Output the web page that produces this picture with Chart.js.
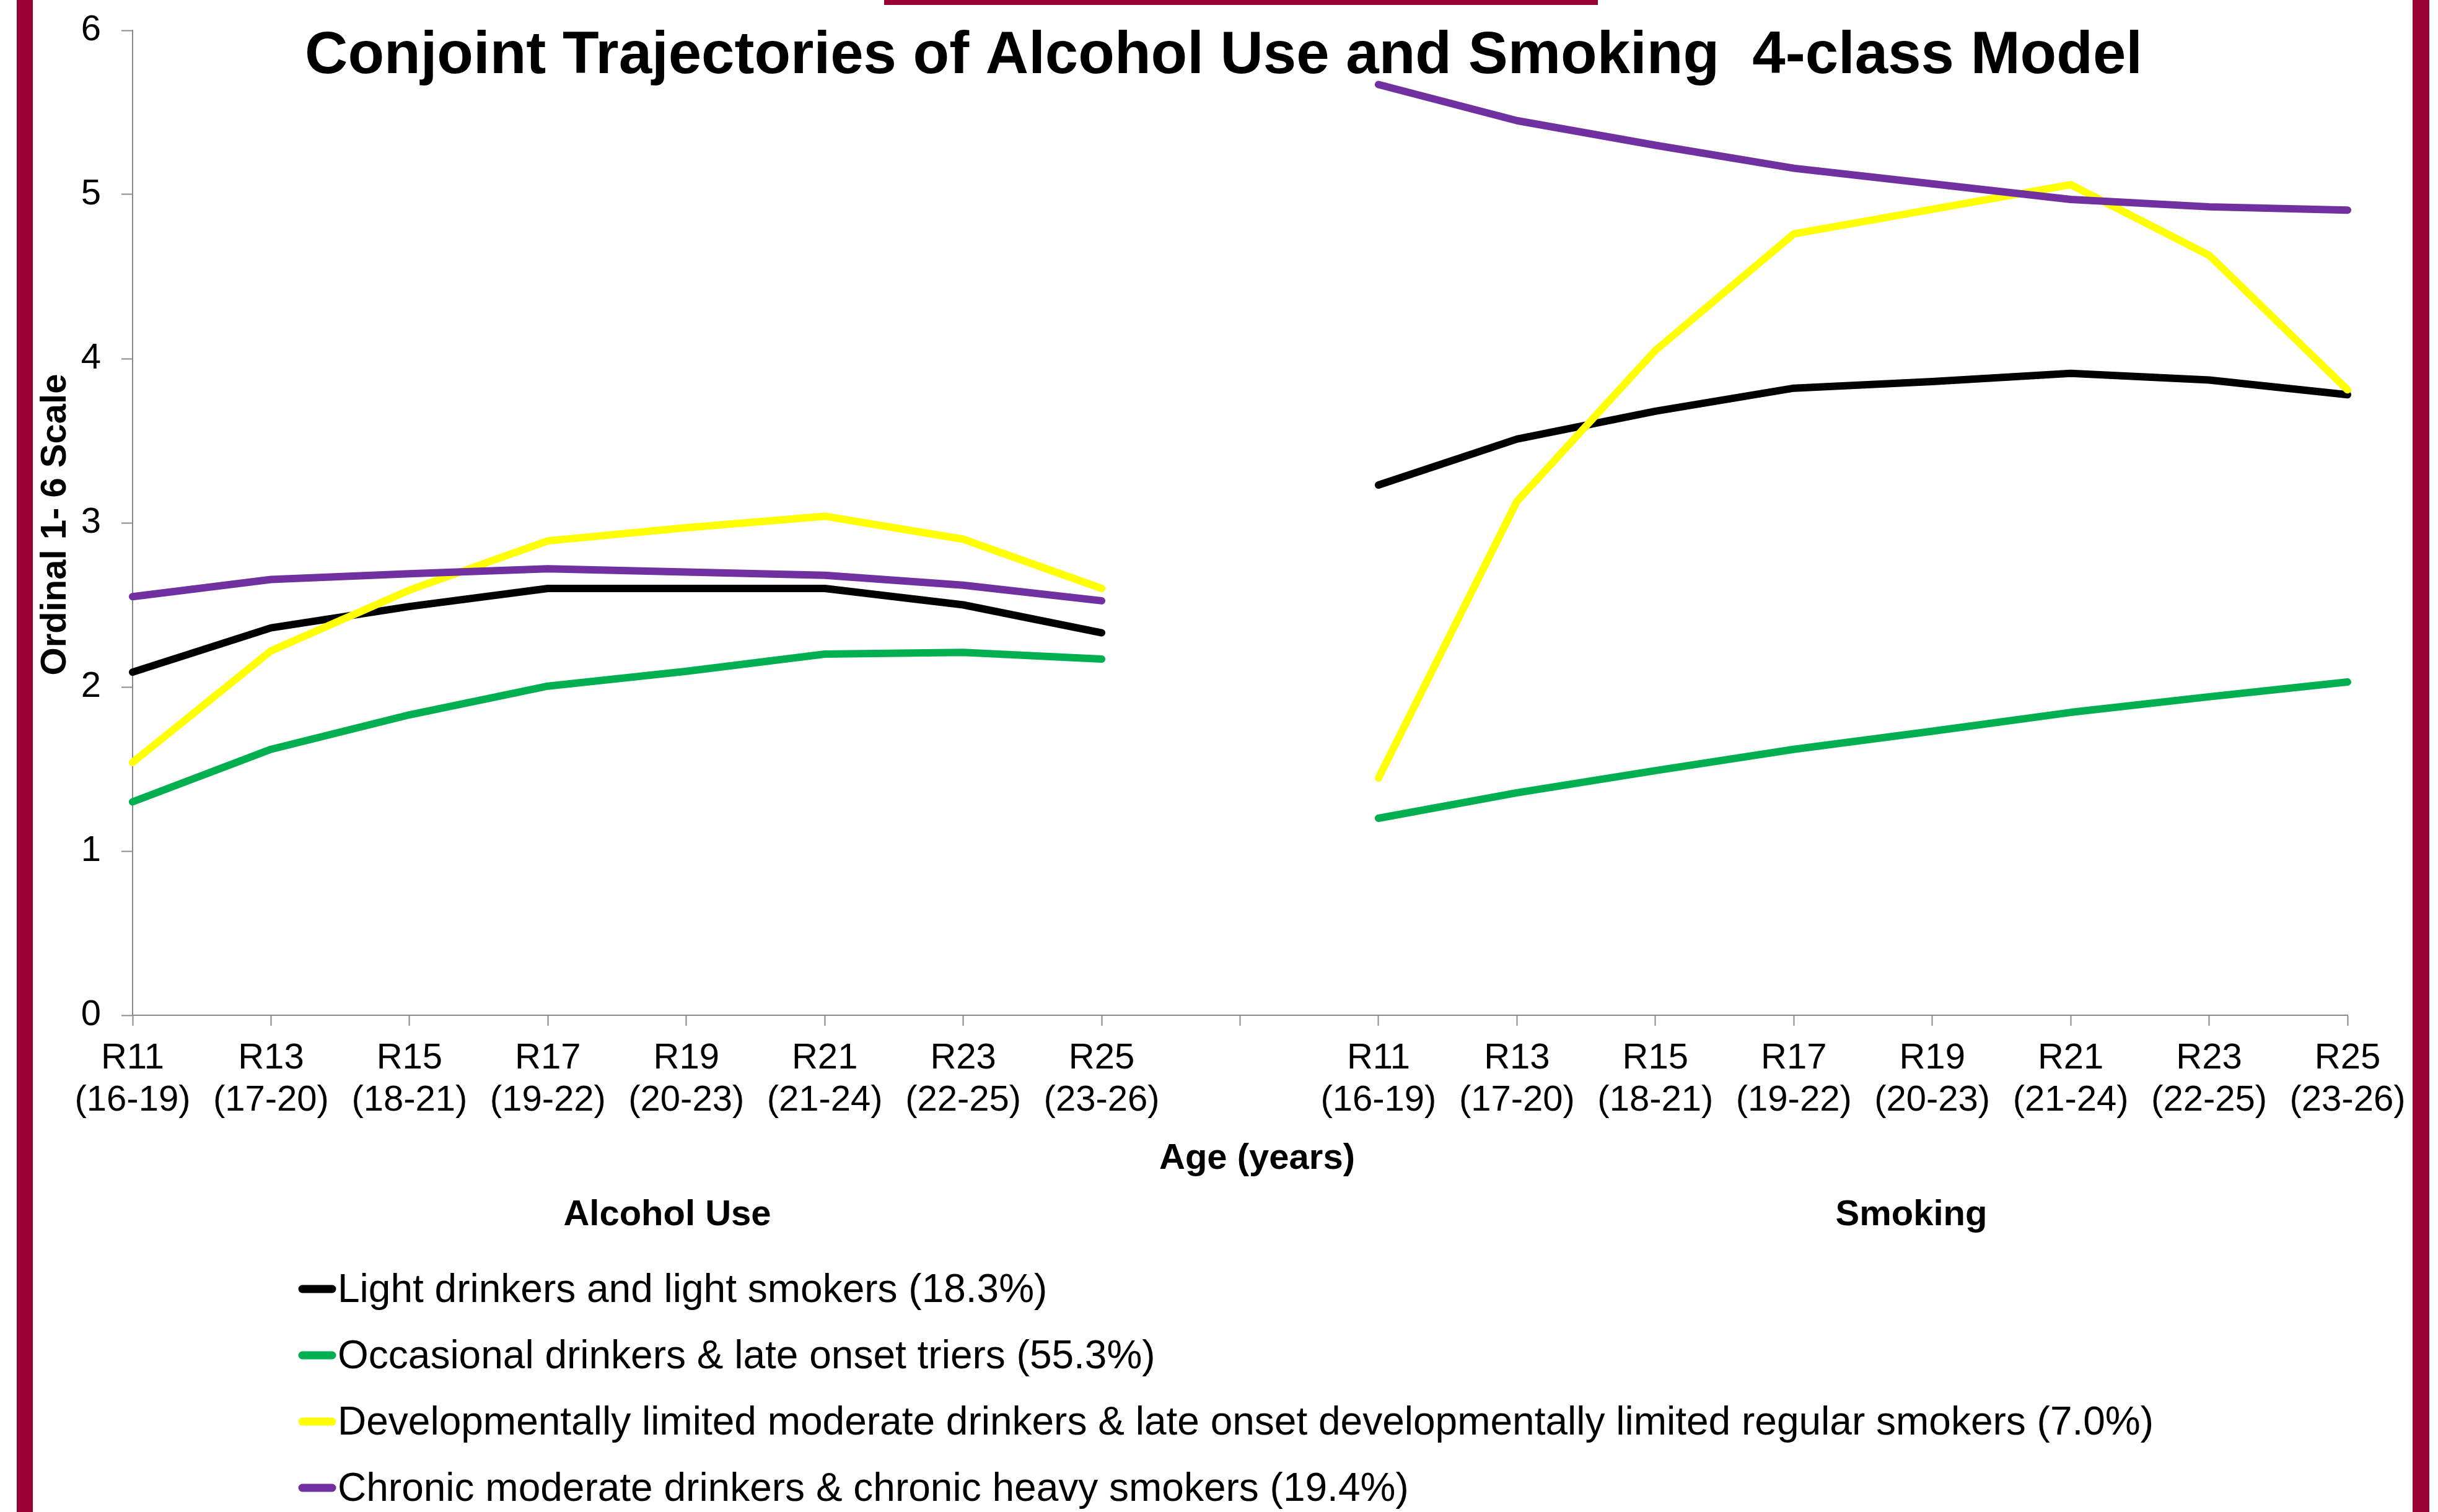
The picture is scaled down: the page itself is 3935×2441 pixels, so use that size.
<!DOCTYPE html>
<html>
<head>
<meta charset="utf-8">
<script src="https://cdn.jsdelivr.net/npm/chart.js@4.4.1/dist/chart.umd.min.js"></script>
<style>
  html, body { margin: 0; padding: 0; background: #fff; }
  #wrap { position: relative; width: 3935px; height: 2441px; overflow: hidden; background: #fff; }
  #chart { position: absolute; left: 0; top: 0; }
  .bar { position: absolute; background: #990033; }
</style>
</head>
<body>
<div id="wrap">
  <canvas id="chart" width="3935" height="2441"></canvas>
  <div class="bar" style="left:27px;top:0;width:26px;height:2441px"></div>
  <div class="bar" style="left:3894px;top:0;width:27px;height:2441px"></div>
  <div class="bar" style="left:1427px;top:0;width:1152px;height:8px"></div>
</div>
<script>
// waves and age ranges (same for both panels)
const waves = ['R11', 'R13', 'R15', 'R17', 'R19', 'R21', 'R23', 'R25'];
const ageRanges = ['(16-19)', '(17-20)', '(18-21)', '(19-22)', '(20-23)', '(21-24)', '(22-25)', '(23-26)'];
const yTicks = [0, 1, 2, 3, 4, 5, 6];

const classNames = [
    'Light drinkers and light smokers (18.3%)',
    'Occasional drinkers & late onset triers (55.3%)',
    'Developmentally limited moderate drinkers & late onset developmentally limited regular smokers (7.0%)',
    'Chronic moderate drinkers & chronic heavy smokers (19.4%)'
];
const classColors = ['#000000', '#00B050', '#FFFF00', '#7030A0'];

// alcohol use, ordinal 1-6
const alcoholLight = [2.09, 2.36, 2.49, 2.60, 2.60, 2.60, 2.50, 2.33];
const alcoholOccasional = [1.30, 1.62, 1.83, 2.005, 2.095, 2.20, 2.21, 2.17];
const alcoholDevLimited = [1.54, 2.22, 2.59, 2.89, 2.97, 3.04, 2.90, 2.60];
const alcoholChronic = [2.55, 2.655, 2.69, 2.72, 2.70, 2.68, 2.62, 2.525];

// smoking, ordinal 1-6
const smokingLight = [3.23, 3.51, 3.68, 3.82, 3.86, 3.91, 3.87, 3.78];
const smokingOccasional = [1.20, 1.355, 1.49, 1.62, 1.73, 1.845, 1.94, 2.03];
const smokingDevLimited = [1.445, 3.13, 4.05, 4.76, 4.91, 5.06, 4.63, 3.81];
const smokingChronic = [5.67, 5.45, 5.30, 5.16, 5.065, 4.97, 4.925, 4.905];

const alcoholSeries = [alcoholLight, alcoholOccasional, alcoholDevLimited, alcoholChronic];
const smokingSeries = [smokingLight, smokingOccasional, smokingDevLimited, smokingChronic];

const FONT = '"Liberation Sans", Arial, sans-serif';
const AXIS_GRAY = '#8a8a8a';

// one empty category separates the two panels
const panelLabels = waves.map((w, i) => [w, ageRanges[i]]);
const labels = [...panelLabels, '', ...panelLabels];

const datasets = classNames.map((name, i) => ({
    label: name,
    data: [...alcoholSeries[i], null, ...smokingSeries[i]],
    borderColor: classColors[i],
    backgroundColor: classColors[i],
    borderWidth: 12,
    borderCapStyle: 'round',
    borderJoinStyle: 'round',
    pointRadius: 0,
    pointHoverRadius: 0,
    tension: 0,
    spanGaps: false,
    order: classNames.length - i
}));

const decorations = {
    id: 'decorations',
    afterDraw(chart) {
        const ctx = chart.ctx;
        ctx.save();
        ctx.fillStyle = '#000';
        ctx.textAlign = 'center';
        ctx.textBaseline = 'alphabetic';

        ctx.font = 'bold 96px ' + FONT;
        ctx.fillText('Conjoint Trajectories of Alcohol Use and Smoking  4-class Model', 1975, 118);

        ctx.font = 'bold 58px ' + FONT;
        ctx.fillText('Age (years)', 2029, 1887);
        ctx.fillText('Alcohol Use', 1077, 1978);
        ctx.fillText('Smoking', 3085, 1978);

        ctx.save();
        ctx.translate(90, 847);
        ctx.rotate(-Math.PI / 2);
        ctx.textBaseline = 'middle';
        ctx.fillText('Ordinal 1- 6 Scale', 0, 0);
        ctx.restore();

        // legend
        ctx.textAlign = 'left';
        ctx.font = '64px ' + FONT;
        chart.data.datasets.forEach((ds, i) => {
            const y = 2081 + i * 107;
            ctx.beginPath();
            ctx.strokeStyle = ds.borderColor;
            ctx.lineWidth = 13;
            ctx.lineCap = 'round';
            ctx.moveTo(488, y);
            ctx.lineTo(536, y);
            ctx.stroke();
            ctx.fillText(ds.label, 545, y + 21);
        });
        ctx.restore();
    }
};

const ctx = document.getElementById('chart').getContext('2d');
new Chart(ctx, {
    type: 'line',
    data: { labels, datasets },
    options: {
        responsive: false,
        animation: false,
        devicePixelRatio: 1,
        layout: { padding: { left: 0, top: 49, right: 146, bottom: 0 } },
        plugins: {
            legend: { display: false },
            title: { display: false },
            tooltip: { enabled: false }
        },
        scales: {
            x: {
                type: 'category',
                offset: false,
                afterFit: s => { s.height = 802; },
                grid: {
                    display: true,
                    drawOnChartArea: false,
                    drawTicks: true,
                    tickLength: 17,
                    tickColor: AXIS_GRAY,
                    tickWidth: 2,
                    offset: false
                },
                border: { display: true, color: AXIS_GRAY, width: 2 },
                ticks: {
                    autoSkip: false,
                    maxRotation: 0,
                    minRotation: 0,
                    padding: 19,
                    color: '#000',
                    font: { family: FONT, size: 58, lineHeight: 68 / 58 }
                }
            },
            y: {
                min: 0,
                max: 6,
                afterFit: s => { s.width = 214; },
                afterBuildTicks: s => { s.ticks = yTicks.map(v => ({ value: v })); },
                grid: {
                    display: true,
                    drawOnChartArea: false,
                    drawTicks: true,
                    tickLength: 18,
                    tickColor: AXIS_GRAY,
                    tickWidth: 2
                },
                border: { display: true, color: AXIS_GRAY, width: 2 },
                ticks: {
                    padding: 33,
                    color: '#000',
                    // small line height keeps the top label from pushing the plot down
                    font: { family: FONT, size: 58, lineHeight: 0.4 }
                }
            }
        }
    },
    plugins: [decorations]
});
</script>
</body>
</html>
